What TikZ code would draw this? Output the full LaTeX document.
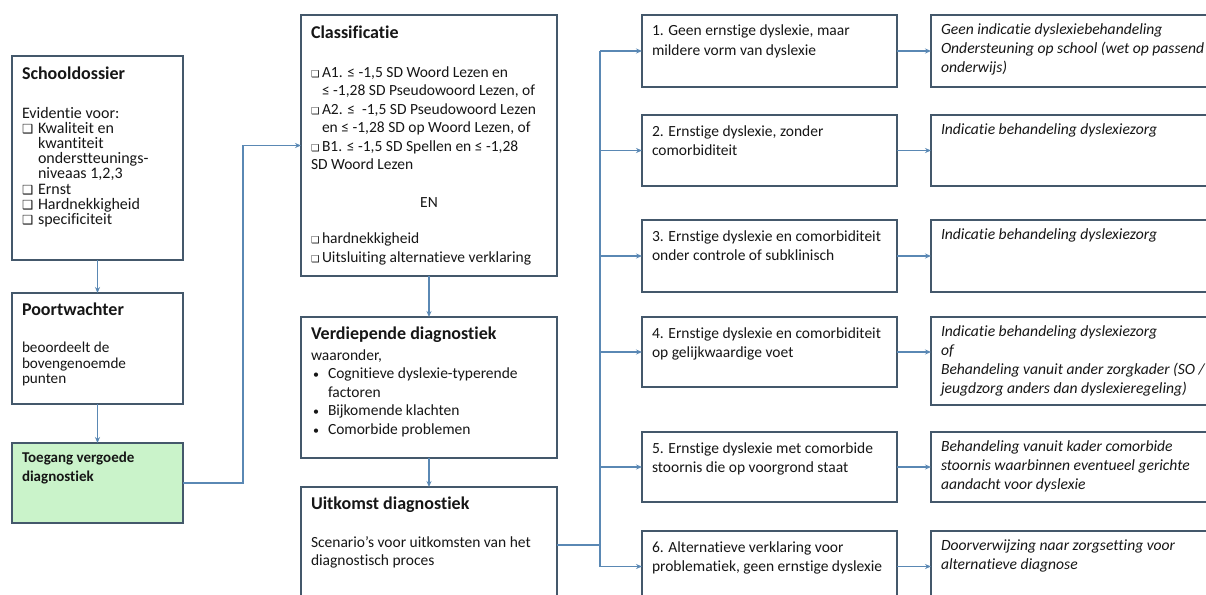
\documentclass[tikz,border=0pt]{standalone}
\usepackage{fontspec}
\setmainfont{Carlito}[Ligatures=NoCommon]
\newfontfamily\dvf{DejaVu Sans}
\usetikzlibrary{arrows.meta}
\definecolor{bordc}{HTML}{44586B}
\definecolor{arrc}{HTML}{5A88B4}
\definecolor{grn}{HTML}{CAF3CA}
\definecolor{txtc}{HTML}{161616}
\newcommand\ttlf{\fontsize{18}{22}\selectfont\bfseries}
\newcommand\bodyf{\fontsize{15.5}{18.5}\selectfont}
\newcommand\tightf{\fontsize{16}{15.2}\selectfont}
\newcommand\scf{\fontsize{15.5}{19.5}\selectfont}
\newcommand\itf{\fontsize{15.6}{19}\selectfont\itshape}
\newcommand\first[1]{\rule{0pt}{#1pt}}
\newcommand\cbsize{9.5}
\newcommand\cbx{{\dvf\fontsize{\cbsize}{\cbsize}\selectfont ❑}}
\newcommand\cbi[2][11pt]{\par\hangindent=#1\hangafter=1\noindent\makebox[#1][l]{\cbx}#2}
\newcommand\bli[1]{\par\hangindent=17pt\hangafter=1\noindent\makebox[17pt][l]{\hspace{2pt}{\fontsize{12}{12}\selectfont •}}#1}
\newcommand\bx[6][]{\node[box,#1] (#2) at (#3) {\begin{minipage}[c][#5pt][t]{#4pt}\raggedright\parindent=0pt #6\end{minipage}};}
\tikzset{
  box/.style={draw=bordc, line width=1.3pt, fill=white, inner sep=0pt, inner xsep=10pt, outer sep=0pt, anchor=north west, text=txtc},
  arr/.style={draw=arrc, line width=1.2pt, -{Stealth[length=6pt,width=5pt]}},
  ln/.style={draw=arrc, line width=1.2pt},
}
\begin{document}
\begin{tikzpicture}[x=1pt,y=-1pt]
\useasboundingbox (0,0) rectangle (1206,594);
\fill[white] (0,0) rectangle (1206,594);
\clip (0,0) rectangle (1206,594);
% left column
\bx{s}{12,56}{151}{204}{\first{23}{\ttlf Schooldossier}\par\vspace{23.8pt}%
  {\tightf\renewcommand\cbsize{12.5}Evidentie voor:\par
  \cbi[16pt]{Kwaliteit en\newline kwantiteit\newline onderstteunings-\newline niveaas 1,2,3}%
  \cbi[16pt]{Ernst}\cbi[16pt]{Hardnekkigheid}\cbi[16pt]{specificiteit}\par}}
\bx{p}{12,293}{151}{111}{\first{22}{\ttlf Poortwachter}\par\vspace{22.7pt}%
  {\fontsize{15.2}{15.2}\selectfont beoordeelt de\\bovengenoemde\\punten\par}}
\bx[fill=grn]{t}{12,443}{151}{80}{{\fontsize{15}{19}\selectfont\bfseries\first{19}Toegang vergoede\\diagnostiek\par}}
% middle column
\bx{c}{301,15}{236}{261}{\first{23}{\ttlf Classificatie}\par\vspace{20.5pt}%
  {\bodyf
  \cbi{A1. ≤ -1,5 SD Woord Lezen en\newline ≤ -1,28 SD Pseudowoord Lezen, of}%
  \cbi{A2. ≤~ -1,5 SD Pseudowoord Lezen\newline en ≤ -1,28 SD op Woord Lezen, of}%
  \cbi{B1. ≤ -1,5 SD Spellen en ≤ -1,28\newline\hspace*{-11pt}SD Woord Lezen}\par
  \vspace{19.5pt}\noindent\makebox[\linewidth]{EN}\par
  \vspace{17.5pt}%
  \cbi{hardnekkigheid}\cbi{Uitsluiting alternatieve verklaring}\par}}
\bx{v}{301,317}{236}{141}{\first{22}{\ttlf Verdiepende diagnostiek}\par\vspace{2.5pt}%
  {\bodyf waaronder,\par
  \bli{Cognitieve dyslexie-typerende\newline factoren}\bli{Bijkomende klachten}\bli{Comorbide problemen}\par}}
\bx{u}{301,487}{236}{116}{\first{22}{\ttlf Uitkomst diagnostiek}\par\vspace{19.5pt}%
  {\bodyf Scenario’s voor uitkomsten van het\\diagnostisch proces\par}}
% scenario column
\bx{n1}{642,15}{235}{72}{{\scf\first{21}1. Geen ernstige dyslexie, maar\\mildere vorm van dyslexie\par}}
\bx{n2}{642,115}{235}{71}{{\scf\first{21}2. Ernstige dyslexie, zonder\\comorbiditeit\par}}
\bx{n3}{642,220}{235}{72}{{\scf\first{21}3. Ernstige dyslexie en comorbiditeit\\onder controle of subklinisch\par}}
\bx{n4}{642,317}{235}{70}{{\scf\first{21}4. Ernstige dyslexie en comorbiditeit\\op gelijkwaardige voet\par}}
\bx{n5}{642,432}{235}{70}{{\scf\first{21}5. Ernstige dyslexie met comorbide\\stoornis die op voorgrond staat\par}}
\bx{n6}{642,531}{235}{71}{{\scf\first{21}6. Alternatieve verklaring voor\\problematiek, geen ernstige dyslexie\par}}
% result column
\bx{r1}{931,15}{270}{72}{{\itf\first{19}Geen indicatie dyslexiebehandeling\\Ondersteuning op school (wet op passend\\onderwijs)\par}}
\bx{r2}{931,115}{270}{71}{{\itf\first{19}Indicatie behandeling dyslexiezorg\par}}
\bx{r3}{931,220}{270}{72}{{\itf\first{19}Indicatie behandeling dyslexiezorg\par}}
\bx{r4}{931,317}{270}{88}{{\itf\first{19}Indicatie behandeling dyslexiezorg\\of\\Behandeling vanuit ander zorgkader (SO /\\jeugdzorg anders dan dyslexieregeling)\par}}
\bx{r5}{931,432}{270}{70}{{\itf\first{19}Behandeling vanuit kader comorbide\\stoornis waarbinnen eventueel gerichte\\aandacht voor dyslexie\par}}
\bx{r6}{931,531}{270}{71}{{\itf\first{19}Doorverwijzing naar zorgsetting voor\\alternatieve diagnose\par}}
% connectors
\coordinate (j1) at (243,0);
\coordinate (tr) at (600,0);
\draw[arr] (s.south) -- (p.north);
\draw[arr] (p.south) -- (t.north);
\draw[arr] (t.east) -- (t.east -| j1) |- (c.west);
\draw[arr] (c.south) -- (v.north);
\draw[arr] (v.south) -- (u.north);
\draw[ln] (u.east) -- (u.east -| tr);
\draw[ln] (tr |- n1.west) -- (tr |- n6.west);
\foreach \i in {1,2,3,4,5,6} {\draw[arr] (tr |- n\i.west) -- (n\i.west);}
\foreach \i in {1,2,3,5,6} {\draw[arr] (n\i.east) -- (r\i.west);}
\draw[arr] (n4.east) -- (n4.east -| r4.west);
\end{tikzpicture}
\end{document}
